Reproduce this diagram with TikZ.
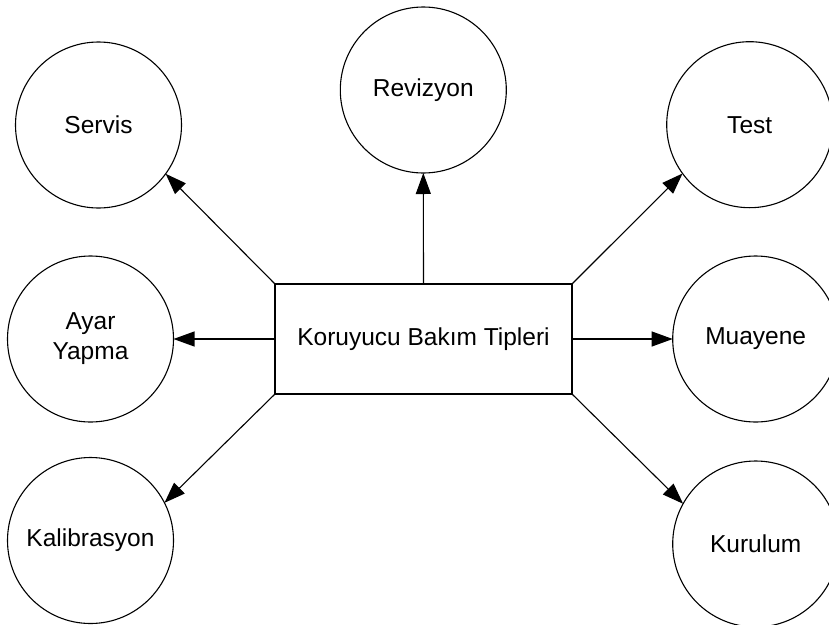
\documentclass[tikz,border=0pt]{standalone}
\usepackage{fontspec}
\setmainfont{Liberation Sans}
\usetikzlibrary{arrows.meta}
\begin{document}
\begin{tikzpicture}[x=1pt,y=-1pt,
  every node/.style={font=\fontsize{24.5}{30}\selectfont, align=center, inner sep=0pt, outer sep=0pt},
  kind/.style={draw, circle, line width=1.1pt, minimum size=166pt},
  hub/.style={draw, rectangle, line width=1.1pt, minimum width=297pt, minimum height=110pt},
  link/.style={line width=1.1pt, -{Triangle[length=21pt,width=15pt]}}]
\useasboundingbox (0,0) rectangle (829,624);

% central box
\node[hub] (hub) at (423.5,339) {Koruyucu Bakım Tipleri};

% maintenance types
\node[kind] (servis) at (98.5,125)   {Servis};
\node[kind] (reviz)  at (423.3,90)   {Revizyon};
\node[kind] (test)   at (749.7,124.7){Test};
\node[kind] (ayar)   at (90.5,339)   {Ayar\\Yapma};
\node[kind] (muay)   at (755.7,339)  {Muayene};
\node[kind] (kalib)  at (90.5,540.5) {Kalibrasyon};
\node[kind] (kurul)  at (755.7,544)  {Kurulum};

% connectors
\draw[link] (hub.north west) -- (servis.-36.4);
\draw[link] (hub.north) -- (reviz.south);
\draw[link] (hub.north east) -- (test.216);
\draw[link] (hub.west) -- (ayar.east);
\draw[link] (hub.east) -- (muay.west);
\draw[link] (hub.south west) -- (kalib.27);
\draw[link] (hub.south east) -- (kurul.151.7);
\end{tikzpicture}
\end{document}
